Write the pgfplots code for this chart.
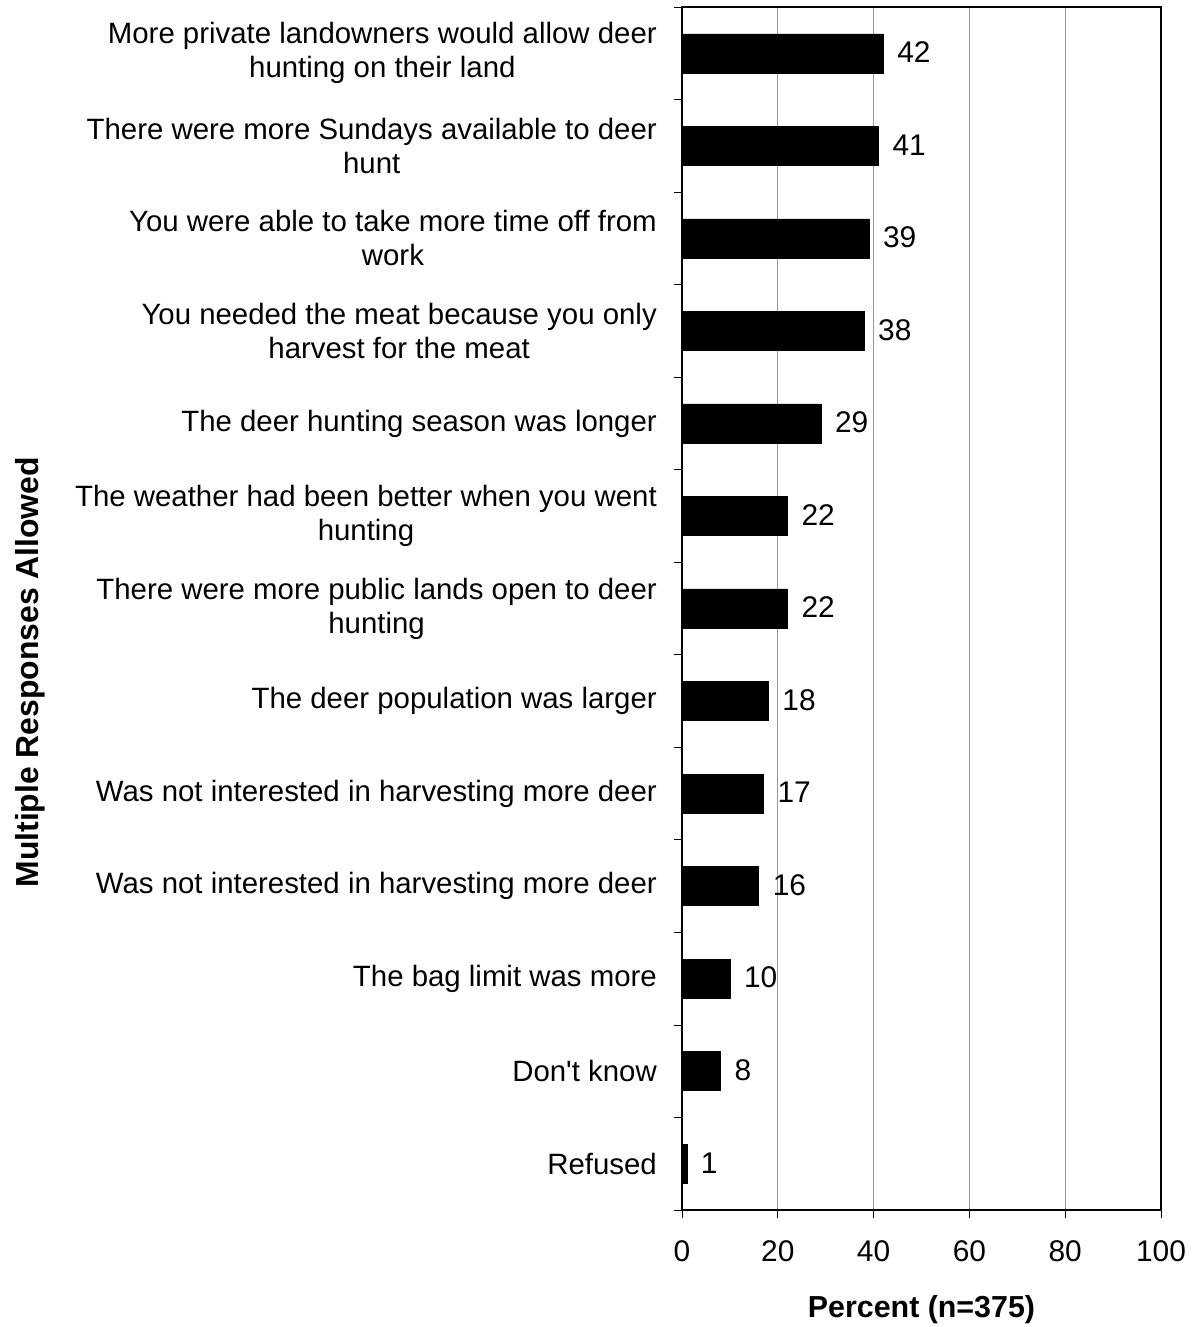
\documentclass[border=0pt]{standalone}
\usepackage{pgfplots}
\pgfplotsset{compat=1.18}
\usepackage{fontspec}
\setmainfont{Liberation Sans}
\begin{document}
\begin{tikzpicture}
\begin{axis}[
  scale only axis=true,
  width=479bp, height=1203bp,
  xbar, bar width=39bp,
  xmin=0, xmax=100,
  ymin=-0.5, ymax=12.5,
  xtick={0,20,40,60,80,100},
  xmajorgrids=true,
  grid style={gray!80, line width=0.8bp},
  axis line style={line width=1.6bp},
  tick style={black, line width=0.8bp},
  tick align=outside,
  xtick pos=bottom,
  ytick pos=left,
  major tick length=8bp,
  ytick={-0.5,0.5,...,12.5},
  y tick label as interval,
  yticklabels={Refused, Don\textquotesingle t know, The bag limit was more,
    Was not interested in harvesting more deer,
    Was not interested in harvesting more deer,
    The deer population was larger,
    {There were more public lands open to deer\\hunting},
    {The weather had been better when you went\\hunting},
    The deer hunting season was longer,
    {You needed the meat because you only\\harvest for the meat},
    {You were able to take more time off from\\work},
    {There were more Sundays available to deer\\hunt},
    {More private landowners would allow deer\\hunting on their land}},
  yticklabel style={align=center, anchor=east, inner sep=0pt, xshift=-17bp, font=\fontsize{29.5}{34}\selectfont},
  xticklabel style={font=\fontsize{30}{34}\selectfont, inner sep=0pt, yshift=-22bp},
  /pgf/number format/assume math mode=true,
  nodes near coords,
  every node near coord/.append style={anchor=west, inner sep=0pt, xshift=14bp, yshift=1bp, font=\fontsize{30}{34}\selectfont, black},
  xlabel={\bfseries Percent (n=375)},
  xlabel style={font=\fontsize{30.5}{34}\selectfont, at={(axis description cs:0.5,0)}, anchor=center, yshift=-100bp},
  ylabel={\bfseries Multiple Responses Allowed},
  ylabel style={font=\fontsize{32}{36}\selectfont, at={(axis description cs:-1.361,0.447)}, anchor=center},
]
\addplot[fill=black, draw=black] coordinates {
  (1,0) (8,1) (10,2) (16,3) (17,4) (18,5) (22,6) (22,7) (29,8) (38,9) (39,10) (41,11) (42,12)
};
\end{axis}
\pgfresetboundingbox
\path ([xshift=-682bp,yshift=-117bp]current axis.south west) rectangle ([xshift=34bp,yshift=7bp]current axis.north east);
\end{tikzpicture}
\end{document}
